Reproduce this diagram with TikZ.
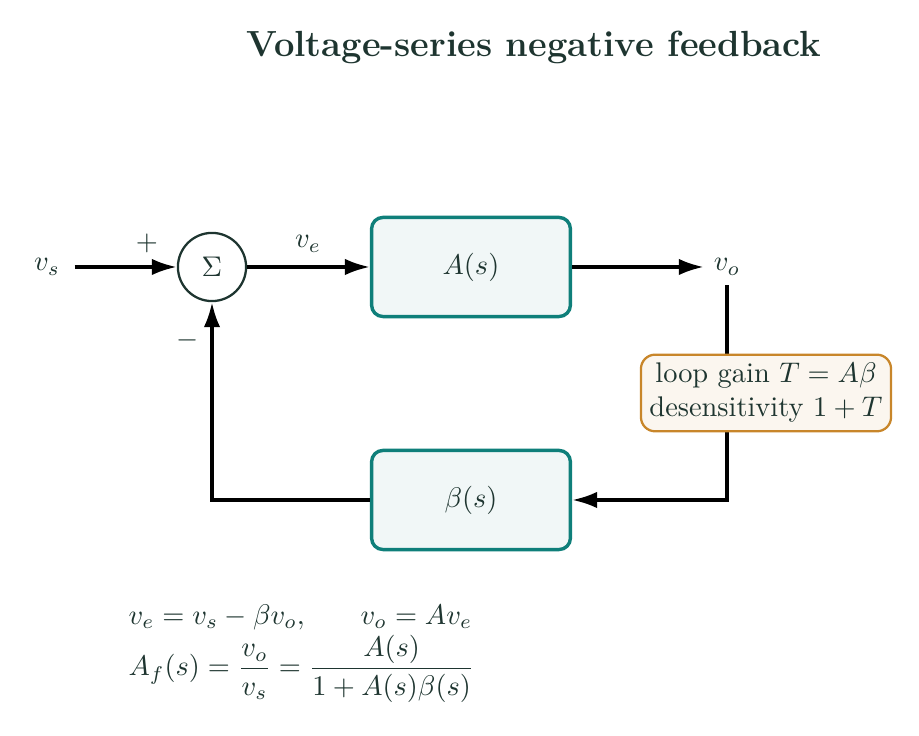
\documentclass[tikz,border=0pt]{standalone}
\usepackage{amsmath}
\usetikzlibrary{arrows.meta}
\definecolor{txt}{HTML}{1E3530}
\definecolor{blockline}{HTML}{0F7F7A}
\definecolor{blockfill}{HTML}{F1F7F7}
\definecolor{noteline}{HTML}{C8862A}
\definecolor{notefill}{HTML}{FBF6EF}
\begin{document}
\begin{tikzpicture}[x=0.3521pt,y=-0.3521pt,
  every node/.style={text=txt},
  titlestyle/.style={font=\fontsize{12.8}{15}\selectfont\bfseries},
  lbl/.style={},
  sumnode/.style={circle,draw=txt,thick,fill=white,minimum size=24pt,inner sep=0pt},
  block/.style={draw=blockline,fill=blockfill,line width=1.2pt,rounded corners=4pt,minimum width=70pt,minimum height=34.9pt},
  note/.style={draw=noteline,fill=notefill,line width=0.8pt,rounded corners=5pt,align=center,inner sep=3pt},
  sig/.style={line width=1.2pt,-{Latex[length=8.8pt,width=5.8pt]}},
  wire/.style={line width=1.2pt}]
\useasboundingbox (0,0) rectangle (919,736);
\node[titlestyle] (title) at (534,47) {Voltage-series negative feedback};
\node[lbl] (vs) at (47,267) {$v_s$};
\node[sumnode] (sum) at (212,267) {$\Sigma$};
\node[block] (A) at (471,267) {$A(s)$};
\node[lbl] (vo) at (727,267) {$v_o$};
\node[block] (B) at (471,500) {$\beta(s)$};
\node[lbl] (plus) at (147,243) {$+$};
\node[lbl] (minus) at (188,340) {$-$};
\node[lbl] (ve) at (308,244) {$v_e$};
\draw[sig,shorten <=1.6pt] (vs.east) -- (sum.west);
\draw[sig] (sum.east) -- (A.west);
\draw[sig] (A.east) -- (vo.west);
\draw[sig] (vo.south) |- (B.east);
\draw[sig] (B.west) -| (sum.south);
\node[note] (note) at (766,393) {loop gain $T=A\beta$\\desensitivity $1+T$};
\node[anchor=north west,align=left,inner sep=0pt] (eq) at (128,604)
  {$v_e = v_s - \beta v_o,\hspace{18pt} v_o = A v_e$\\[1pt]
   $A_f(s) = \dfrac{v_o}{v_s} = \dfrac{A(s)}{1+A(s)\beta(s)}$};
\end{tikzpicture}
\end{document}
